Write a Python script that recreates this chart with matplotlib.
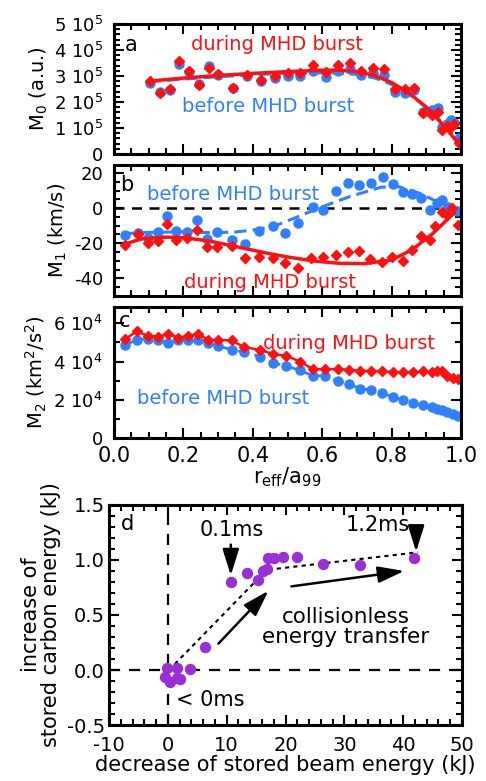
import numpy as np
import matplotlib
matplotlib.use("Agg")
import matplotlib.pyplot as plt
from matplotlib.ticker import MultipleLocator, FixedLocator

plt.rcParams['font.family'] = ['DejaVu Sans']
plt.rcParams['mathtext.fontset'] = 'dejavusans'
plt.rcParams['axes.unicode_minus'] = False

RED = '#ff1010'
BLUE = '#2f80ff'
PURPLE = '#9a2fd6'

# ---- panel a : M0 ----
a_x = [0.104, 0.133, 0.16, 0.187, 0.216, 0.244, 0.273, 0.30, 0.344, 0.382, 0.424,
       0.463, 0.501, 0.537, 0.573, 0.612, 0.646, 0.679, 0.713, 0.746, 0.777, 0.809,
       0.838, 0.865, 0.89, 0.915, 0.934, 0.946, 0.96, 0.972, 0.98, 0.994]
a_during = [2.81, 2.36, 2.49, 3.56, 3.2, 2.65, 3.32, 3.06, 2.52, 3.04, 2.85,
            3.0, 3.1, 3.13, 3.42, 3.17, 3.42, 3.49, 3.2, 3.3, 3.26, 2.49,
            2.49, 2.53, 1.56, 1.5, 1.62, 0.92, 1.08, 1.03, 1.15, 0.44]
a_before = [2.74, 2.4, 2.45, 3.45, 3.15, 2.7, 3.38, 3.02, 2.55, 3.0, 2.8,
            2.92, 3.0, 3.0, 3.2, 2.95, 3.2, 3.25, 3.05, 3.1, 3.05, 2.4,
            2.35, 2.45, 1.6, 1.7, 1.76, 1.05, 1.15, 1.31, 1.2, 0.6]
a_fit_x = [0.1, 0.2, 0.3, 0.4, 0.5, 0.6, 0.65, 0.7, 0.75, 0.8, 0.85, 0.9, 0.95, 1.0]
a_fit_during = [2.8, 2.92, 3.02, 3.1, 3.17, 3.22, 3.22, 3.17, 3.02, 2.75, 2.35, 1.8, 1.1, 0.28]
a_fit_before = [2.78, 2.88, 2.97, 3.05, 3.1, 3.12, 3.11, 3.06, 2.93, 2.68, 2.3, 1.8, 1.15, 0.4]
a_yticks = [0, 1e5, 2e5, 3e5, 4e5, 5e5]
a_ylabels = ['0', '1 10$^5$', '2 10$^5$', '3 10$^5$', '4 10$^5$', '5 10$^5$']

# ---- panel b : M1 ----
b_x_before = [0.032, 0.07, 0.099, 0.128, 0.154, 0.18, 0.211, 0.24, 0.269, 0.298, 0.339,
              0.378, 0.418, 0.459, 0.493, 0.531, 0.572, 0.603, 0.641, 0.675, 0.707, 0.74,
              0.774, 0.805, 0.832, 0.86, 0.886, 0.91, 0.931, 0.946, 0.963, 0.987]
b_before = [-15.1, -14.2, -17, -13.8, -4.4, -13.2, -13.8, -6.6, -17.6, -13.8, -18,
            -20.4, -13.2, -10, -14.2, -8.5, 0.6, -1, 10, 14.5, 13.2, 14.5,
            17.6, 13.8, 9, 7.9, 5.7, -1, 2.8, 4.7, 0.9, -1.9]
b_x_during = [0.032, 0.07, 0.099, 0.128, 0.154, 0.18, 0.211, 0.24, 0.269, 0.298, 0.339,
              0.378, 0.418, 0.459, 0.493, 0.531, 0.569, 0.603, 0.64, 0.675, 0.707, 0.737,
              0.771, 0.8, 0.832, 0.86, 0.886, 0.91, 0.925, 0.946, 0.96, 0.973, 0.99]
b_during = [-20.8, -14.6, -19.8, -18.5, -9.1, -18, -17, -12.3, -22.1, -22.1, -21.4,
            -28.3, -27.8, -28.3, -31.4, -34, -28.5, -28, -26.6, -25.2, -24.2, -28.9,
            -30.8, -27.8, -29.9, -24.1, -15.9, -18.2, -10, -2, -4, 0, -9.7]
b_fit_x_during = [0.03, 0.08, 0.15, 0.2, 0.28, 0.37, 0.45, 0.5, 0.58, 0.65, 0.72,
                  0.8, 0.86, 0.92, 0.96, 0.98]
b_fit_during = [-20.5, -17.5, -16.5, -16.8, -18.9, -22.7, -26, -27.8, -30.2, -31.4,
                -31.6, -29.5, -23.6, -14.2, -6.6, -2.8]
b_fit_x_before = [0.03, 0.1, 0.2, 0.28, 0.35, 0.4, 0.46, 0.52, 0.59, 0.68, 0.77,
                  0.82, 0.88, 0.94, 0.98]
b_fit_before = [-14.5, -13.8, -13.5, -14, -13.6, -12.5, -10.4, -5.7, 0, 6.6, 11.9,
                12.2, 8.5, 2.8, -1.9]
b_yticks = [-40, -20, 0, 20]

# ---- panel c : M2 ----
c_x = [0.032, 0.065, 0.099, 0.128, 0.156, 0.185, 0.214, 0.243, 0.271, 0.30, 0.339,
       0.375, 0.42, 0.458, 0.497, 0.535, 0.574, 0.607, 0.645, 0.677, 0.709, 0.741,
       0.773, 0.804, 0.834, 0.863, 0.89, 0.915, 0.93, 0.946, 0.96, 0.976, 0.99]
c_during = [5.17, 5.57, 5.34, 5.3, 5.45, 5.25, 5.34, 5.45, 5.13, 5.13, 5.1,
            4.75, 4.61, 4.39, 4.3, 4.0, 3.6, 3.6, 3.6, 3.57, 3.51, 3.51,
            3.48, 3.45, 3.43, 3.45, 3.48, 3.43, 3.48, 3.48, 3.25, 3.13, 3.1]
c_before = [4.87, 5.13, 5.2, 5.15, 4.96, 5.1, 5.1, 5.1, 4.96, 4.82, 4.61,
            4.5, 4.26, 3.92, 3.78, 3.53, 3.25, 3.25, 2.96, 2.84, 2.57, 2.52,
            2.35, 2.14, 2.0, 1.83, 1.7, 1.6, 1.5, 1.44, 1.36, 1.27, 1.13]
c_yticks = [0, 2e4, 4e4, 6e4]
c_ylabels = ['0', '2 10$^4$', '4 10$^4$', '6 10$^4$']
c_xticks = [0.0, 0.2, 0.4, 0.6, 0.8, 1.0]
c_xlabels = ['0.0', '0.2', '0.4', '0.6', '0.8', '1.0']

# ---- panel d : energy ----
d_x = [-0.4, -0.1, 0.45, 1.6, 1.6, 2.15, 3.7, 6.4, 10.7, 13.4, 15.4, 16.2, 16.9,
       17.1, 18.0, 19.5, 22.0, 26.3, 32.6, 41.9]
d_y = [-0.06, 0.015, -0.106, 0.015, -0.076, -0.085, 0.006, 0.21, 0.80, 0.88, 0.82,
       0.90, 0.915, 1.02, 1.02, 1.03, 1.03, 0.96, 0.955, 1.02]
d_trend_x = [0.2, 16.8, 42.5]
d_trend_y = [0.0, 0.91, 1.07]


def style(ax, ypad=8, xpad=4):
    ax.tick_params(which='both', direction='in', top=True, right=True, width=1.5)
    ax.tick_params(which='major', length=7, labelsize=13)
    ax.tick_params(which='minor', length=4)
    ax.tick_params(axis='y', pad=ypad)
    ax.tick_params(axis='x', pad=xpad)
    for s in ax.spines.values():
        s.set_linewidth(2.2)


fig = plt.figure(figsize=(4.86, 7.81), dpi=100)

# panel a
ax1 = fig.add_axes([0.2346, 0.8028, 0.714, 0.1665])
ax1.plot(np.array(a_fit_x), np.array(a_fit_before) * 1e5, color=BLUE, lw=2.2, ls=(0, (4, 2)))
ax1.plot(np.array(a_x), np.array(a_before) * 1e5, 'o', color=BLUE, ms=6.5)
ax1.plot(np.array(a_fit_x), np.array(a_fit_during) * 1e5, color=RED, lw=2.5)
ax1.plot(np.array(a_x), np.array(a_during) * 1e5, 'D', color=RED, ms=5.5)
ax1.set_xlim(0, 1)
ax1.set_ylim(0, 5e5)
ax1.yaxis.set_major_locator(FixedLocator(a_yticks))
ax1.set_yticklabels(a_ylabels)
ax1.yaxis.set_minor_locator(MultipleLocator(2e4))
ax1.xaxis.set_major_locator(MultipleLocator(0.2))
ax1.xaxis.set_minor_locator(MultipleLocator(0.05))
ax1.set_xticklabels([])
style(ax1)
ax1.set_ylabel('M$_0$ (a.u.)', fontsize=14, labelpad=3)
ax1.text(0.05, 4.2e5, 'a', fontsize=15, va='center', ha='center')
ax1.text(0.47, 4.23e5, 'during MHD burst', color=RED, fontsize=14, ha='center', va='center')
ax1.text(0.444, 1.81e5, 'before MHD burst', color=BLUE, fontsize=14, ha='center', va='center')

# panel b
ax2 = fig.add_axes([0.2346, 0.621, 0.714, 0.1677])
ax2.axhline(0, color='k', lw=1.8, ls=(0, (4, 3)))
ax2.plot(b_fit_x_before, b_fit_before, color=BLUE, lw=2.2, ls=(0, (4, 2)))
ax2.plot(b_x_before, b_before, 'o', color=BLUE, ms=6.5)
ax2.plot(b_fit_x_during, b_fit_during, color=RED, lw=2.5)
ax2.plot(b_x_during, b_during, 'D', color=RED, ms=5.5)
ax2.set_xlim(0, 1)
ax2.set_ylim(-50, 24.5)
ax2.yaxis.set_major_locator(FixedLocator(b_yticks))
ax2.yaxis.set_minor_locator(MultipleLocator(5))
ax2.xaxis.set_major_locator(MultipleLocator(0.2))
ax2.xaxis.set_minor_locator(MultipleLocator(0.05))
ax2.set_xticklabels([])
style(ax2)
ax2.set_ylabel('M$_1$ (km/s)', fontsize=14, labelpad=3)
ax2.text(0.037, 13.2, 'b', fontsize=15, va='center', ha='center')
ax2.text(0.343, 7.5, 'before MHD burst', color=BLUE, fontsize=14, ha='center', va='center')
ax2.text(0.45, -42.5, 'during MHD burst', color=RED, fontsize=14, ha='center', va='center')

# panel c
ax3 = fig.add_axes([0.2346, 0.4392, 0.714, 0.1677])
ax3.plot(c_x, np.array(c_before) * 1e4, 'o', color=BLUE, ms=6.5, lw=2, ls=(0, (4, 2)))
ax3.plot(c_x, np.array(c_during) * 1e4, 'D-', color=RED, ms=5.5, lw=1.8)
ax3.set_xlim(0, 1)
ax3.set_ylim(0, 6.85e4)
ax3.yaxis.set_major_locator(FixedLocator(c_yticks))
ax3.set_yticklabels(c_ylabels)
ax3.yaxis.set_minor_locator(MultipleLocator(1e4))
ax3.xaxis.set_major_locator(FixedLocator(c_xticks))
ax3.set_xticklabels(c_xlabels)
ax3.xaxis.set_minor_locator(MultipleLocator(0.05))
style(ax3, xpad=6)
ax3.tick_params(axis='x', labelsize=15)
ax3.set_ylabel('M$_2$ (km$^2$/s$^2$)', fontsize=14, labelpad=3)
ax3.set_xlabel('r$_{\\mathrm{eff}}$/a$_{99}$', fontsize=15, labelpad=-1)
ax3.text(0.03, 6.1e4, 'c', fontsize=15, va='center', ha='center')
ax3.text(0.677, 4.96e4, 'during MHD burst', color=RED, fontsize=14, ha='center', va='center')
ax3.text(0.314, 2.09e4, 'before MHD burst', color=BLUE, fontsize=14, ha='center', va='center')

# panel d
ax4 = fig.add_axes([0.2243, 0.0717, 0.7263, 0.2817])
ax4.axhline(0, color='k', lw=1.6, ls=(0, (5, 4)))
ax4.axvline(0, color='k', lw=1.6, ls=(0, (5, 4)))
ax4.plot(d_trend_x, d_trend_y, color='k', lw=1.5, ls=(0, (2, 2)))
ax4.plot(d_x, d_y, 'o', color=PURPLE, ms=7.2)
ax4.set_xlim(-10, 50)
ax4.set_ylim(-0.5, 1.5)
ax4.xaxis.set_major_locator(MultipleLocator(10))
ax4.xaxis.set_minor_locator(MultipleLocator(2))
ax4.yaxis.set_major_locator(MultipleLocator(0.5))
ax4.yaxis.set_minor_locator(MultipleLocator(0.1))
ax4.yaxis.set_major_formatter(matplotlib.ticker.FormatStrFormatter('%.1f'))
style(ax4, ypad=3, xpad=8)
ax4.tick_params(labelsize=14)
ax4.set_xlabel('decrease of stored beam energy (kJ)', fontsize=15, labelpad=0)
ax4.set_ylabel('increase of\nstored carbon energy (kJ)', fontsize=15, labelpad=4, linespacing=1.0)

arrow = dict(arrowstyle='-|>,head_length=0.8,head_width=0.25', mutation_scale=20,
             color='k', lw=1.8, shrinkA=0, shrinkB=0)
ax4.annotate('', xy=(17.1, 0.72), xytext=(8.6, 0.24), arrowprops=arrow)
ax4.annotate('', xy=(40.2, 0.90), xytext=(21.0, 0.76), arrowprops=arrow)
ax4.annotate('', xy=(10.7, 0.86), xytext=(10.7, 1.14), arrowprops=arrow)
ax4.annotate('', xy=(42.2, 1.075), xytext=(42.2, 1.27), arrowprops=arrow)
ax4.text(-6.9, 1.33, 'd', fontsize=15, va='center', ha='center')
ax4.text(10.9, 1.27, '0.1ms', fontsize=15, va='center', ha='center')
ax4.text(35.7, 1.32, '1.2ms', fontsize=15, va='center', ha='center')
ax4.text(7.2, -0.27, '< 0ms', fontsize=15, va='center', ha='center')
ax4.text(30.3, 0.39, 'collisionless\nenergy transfer', fontsize=15.5, va='center',
         ha='center', linespacing=1.05)

plt.savefig('out.png', dpi=100)
